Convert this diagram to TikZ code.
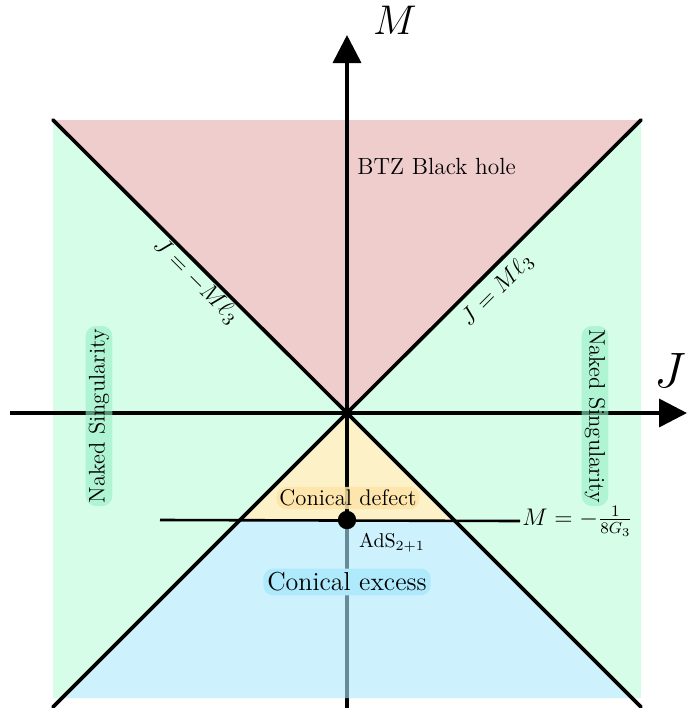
\documentclass[tikz,border=0pt]{standalone}
\usetikzlibrary{arrows.meta}
\definecolor{greenreg}{RGB}{213,253,232}
\definecolor{redreg}{RGB}{239,205,205}
\definecolor{yellowreg}{RGB}{253,241,200}
\definecolor{bluereg}{RGB}{172,233,252}
\definecolor{nakedbg}{RGB}{150,240,200}
\definecolor{defectbg}{RGB}{253,228,168}
\definecolor{excessbg}{RGB}{174,233,252}
\tikzset{
  axis/.style={line width=1.8pt,-{Triangle[length=14pt,width=14pt]}},
  bound/.style={line width=1.8pt,line cap=round},
  lbl/.style={font=\fontsize{11.3}{13}\selectfont,inner sep=1.5pt,rounded corners=5pt},
  eqlbl/.style={font=\fontsize{12.5}{14}\selectfont,inner sep=0pt},
}
\begin{document}
\begin{tikzpicture}[x=0.5pt,y=-0.5pt]
\useasboundingbox (0,0) rectangle (687,708);
% coordinates
\coordinate (O) at (347,413);
\coordinate (TL) at (53,120);
\coordinate (TR) at (641,120);
\coordinate (BL) at (53,707);
\coordinate (BR) at (641,707);
\coordinate (DL) at (240,520);
\coordinate (DR) at (454,520);
\coordinate (EL) at (63,698);
\coordinate (ER) at (631,698);
% regions
\fill[greenreg,even odd rule] (53,120) rectangle (641,698) (DL) -- (DR) -- (ER) -- (EL) -- cycle;
\fill[redreg] (TL) -- (TR) -- (O) -- cycle;
\fill[yellowreg] (O) -- (DL) -- (DR) -- cycle;
% axes
\coordinate (xs) at (10,413);
\coordinate (xe) at (687,413);
\coordinate (ys) at (347,708);
\coordinate (ye) at (347,35);
\draw[axis] (xs) -- (xe);
\draw[axis] (ys) -- (ye);
% blue region (semi-transparent, over axis)
\fill[bluereg,fill opacity=0.6] (DL) -- (DR) -- (ER) -- (EL) -- cycle;
% boundaries
\draw[bound] (TL) -- (O) -- (TR);
\draw[bound] (BL) -- (O) -- (BR);
\coordinate (hl) at (160,520);
\node[anchor=west,font=\fontsize{11.5}{13}\selectfont,inner sep=1pt] (mlab) at (520,521) {$M=-\frac{1}{8G_3}$};
\draw[line width=1.3pt] (hl) -- (mlab.west);
\fill (347,520) circle (4.6pt);
\node (ads) [anchor=west,font=\fontsize{10}{12}\selectfont] at (352,543) {AdS$_{2+1}$};
% axis labels
\node (Mlab) at (395,20) {\fontsize{22}{24}\selectfont$M$};
\node (Jlab) at (670,370) {\fontsize{24}{26}\selectfont$J$};
% region labels
\node (btz) [anchor=base west,font=\fontsize{11.7}{13}\selectfont,inner sep=0pt] at (357,174) {BTZ Black hole};
\node (eq1) [eqlbl,rotate=-45] at (196,281) {$J=-M\ell_3$};
\node (eq2) [eqlbl,rotate=45] at (497,290) {$J=M\ell_3$};
\node (nsl) [lbl,rotate=90,fill=nakedbg,fill opacity=0.6,text opacity=1] at (99,416) {Naked Singularity};
\node (nsr) [lbl,rotate=-90,fill=nakedbg,fill opacity=0.6,text opacity=1] at (595,416) {Naked Singularity};
\node (cd) [lbl,fill=defectbg,fill opacity=0.85,text opacity=1] at (348,498) {Conical defect};
\node (ce) [lbl,fill=excessbg,font=\fontsize{13}{15}\selectfont,inner sep=2pt] at (347,582) {Conical excess};
\end{tikzpicture}
\end{document}
